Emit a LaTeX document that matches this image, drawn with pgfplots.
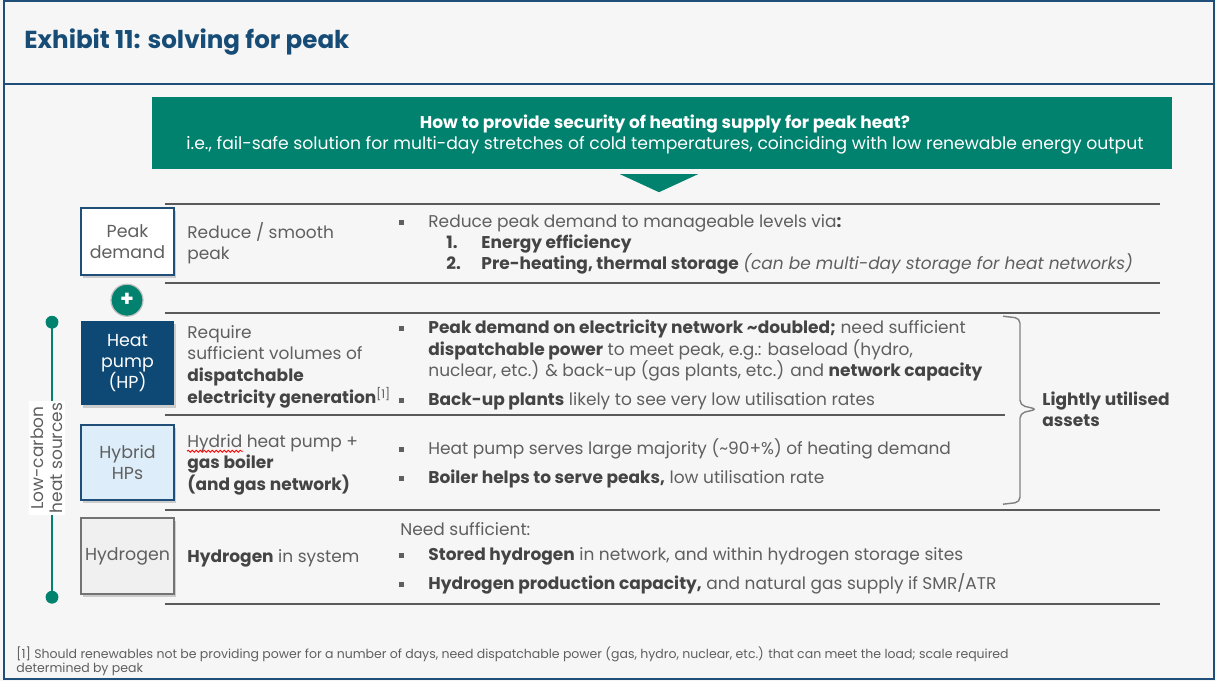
\documentclass[border=0pt]{standalone}
\usepackage{pgfplots}
\pgfplotsset{compat=1.18}
\usepackage{fontspec}
\setmainfont{Poppins}
\usetikzlibrary{shadows,decorations.pathmorphing}

\definecolor{bgc}{RGB}{246,246,246}
\definecolor{frame}{RGB}{31,78,121}
\definecolor{ttl}{RGB}{22,76,118}
\definecolor{teal}{RGB}{0,130,110}
\definecolor{hpblue}{RGB}{14,73,117}
\definecolor{ltblue}{RGB}{221,238,250}
\definecolor{tgray}{RGB}{95,95,95}
\definecolor{tdark}{RGB}{68,68,68}
\definecolor{rule}{RGB}{90,90,90}

\newcommand{\B}[1]{{\bfseries\color{tdark}#1}}
\newcommand{\body}{\fontsize{8.5}{10.5}\selectfont}

\begin{document}
\begin{tikzpicture}[
  txt/.style={anchor=mid west, inner sep=0pt, font=\body, text=tgray},
  box/.style={minimum width=46.5pt, inner sep=0pt, align=center, font=\fontsize{8.7}{10.6}\selectfont,
    drop shadow={opacity=0.35, shadow xshift=1.2pt, shadow yshift=-1.2pt}},
]
\begin{axis}[
  scale only axis, width=608pt, height=340.5pt,
  xmin=0, xmax=1216, ymin=0, ymax=681, y dir=reverse,
  hide axis, clip=false,
]
% background and frame
\fill[bgc] (axis cs:0,0) rectangle (axis cs:1216,681);
\draw[frame, line width=1.2pt] (axis cs:4,1) rectangle (axis cs:1214,679);
\addplot[frame, line width=0.8pt] coordinates {(4,84) (1214,84)};
\node[anchor=mid west, inner sep=0pt, font=\fontsize{12.3}{14}\selectfont\bfseries, text=ttl]
  at (axis cs:24,43) {Exhibit 11: solving for peak};

% question banner
\fill[teal] (axis cs:152,97) rectangle (axis cs:1172,169);
\fill[teal] (axis cs:620,174) -- (axis cs:698,174) -- (axis cs:659,192) -- cycle;
\node[anchor=mid, inner sep=0pt, font=\body\bfseries, text=white] at (axis cs:665,123)
  {How to provide security of heating supply for peak heat?};
\node[anchor=mid, inner sep=0pt, font=\fontsize{8.6}{10.5}\selectfont, text=white] at (axis cs:665,144)
  {i.e., fail-safe solution for multi-day stretches of cold temperatures, coinciding with low renewable energy output};

% row rules
\addplot[rule, line width=0.8pt] coordinates {(165,204) (1160,204)};
\addplot[rule, line width=0.8pt] coordinates {(165,283) (1160,283)};
\addplot[rule, line width=0.8pt] coordinates {(165,313) (1160,313)};
\addplot[rule, line width=0.8pt] coordinates {(165,415) (1005,415)};
\addplot[rule, line width=0.8pt] coordinates {(165,510) (1160,510)};
\addplot[rule, line width=0.8pt] coordinates {(165,604) (1160,604)};

% left boxes
\node[box, minimum height=33.5pt, fill=white, draw=frame, line width=0.9pt, text=tgray]
  at (axis cs:127.5,241.5) {Peak\\demand};
\node[box, minimum height=42pt, fill=hpblue, text=white]
  at (axis cs:127.5,363) {Heat\\pump\\(HP)};
\node[box, minimum height=37.5pt, fill=ltblue, draw=frame, line width=0.9pt, text=tgray]
  at (axis cs:127.5,462.5) {Hybrid\\HPs};
\node[box, minimum height=38pt, fill=black!6, draw=black!55, line width=0.9pt, text=tgray]
  at (axis cs:127.5,556) {Hydrogen};

% plus
\node[circle, fill=teal, draw=black!25, line width=0.6pt, minimum size=16pt, inner sep=0pt,
  text=white, font=\fontsize{11}{11}\selectfont\bfseries] at (axis cs:127,300) {+};

% low-carbon timeline
\addplot[teal, line width=1.1pt] coordinates {(52,322) (52,597)};
\addplot[only marks, mark=*, mark size=3pt, teal] coordinates {(52,322) (52,597)};
\node[rotate=90, fill=white, inner sep=1pt, align=center, text=tgray,
  font=\fontsize{8.5}{9.6}\selectfont] at (axis cs:47,458) {Low-carbon\\heat sources};

% second column
\node[txt] at (axis cs:187,233) {Reduce / smooth};
\node[txt] at (axis cs:187,254) {peak};
\node[txt] at (axis cs:187,333) {Require};
\node[txt] at (axis cs:187,354) {sufficient volumes of};
\node[txt] at (axis cs:187,376) {\B{dispatchable}};
\node[txt] at (axis cs:187,398) {\B{electricity generation}\textsuperscript{[1]}};
\node[txt] at (axis cs:187,442) {Hydrid heat pump +};
\draw[red, line width=0.4pt, decorate, decoration={snake, amplitude=0.5pt, segment length=2pt}]
  (axis cs:187,451) -- (axis cs:243,451);
\node[txt] at (axis cs:187,463) {\B{gas boiler}};
\node[txt] at (axis cs:187,485) {\B{(and gas network)}};
\node[txt] at (axis cs:187,557) {\B{Hydrogen} in system};

% bullets
\addplot[only marks, mark=square*, mark size=1pt, tgray] coordinates
  {(401,222) (401,328) (401,400) (401,449) (401,478) (401,555) (401,584)};

% third column
\node[txt] at (axis cs:428,222) {Reduce peak demand to manageable levels via\B{:}};
\node[txt] at (axis cs:446,243) {\B{1.}};
\node[txt] at (axis cs:481,243) {\B{Energy efficiency}};
\node[txt] at (axis cs:446,264) {\B{2.}};
\node[txt] at (axis cs:481,264) {\B{Pre-heating, thermal storage} \textit{(can be multi-day storage for heat networks)}};

\node[txt] at (axis cs:428,328) {\B{Peak demand on electricity network \textasciitilde doubled;} need sufficient};
\node[txt] at (axis cs:428,350) {\B{dispatchable power} to meet peak, e.g.: baseload (hydro,};
\node[txt] at (axis cs:428,371) {nuclear, etc.) \& back-up (gas plants, etc.) and \B{network capacity}};
\node[txt] at (axis cs:428,400) {\B{Back-up plants} likely to see very low utilisation rates};

\node[txt] at (axis cs:428,449) {Heat pump serves large majority (\textasciitilde 90+\%) of heating demand};
\node[txt] at (axis cs:428,478) {\B{Boiler helps to serve peaks,} low utilisation rate};

\node[txt] at (axis cs:400,530) {Need sufficient:};
\node[txt] at (axis cs:428,555) {\B{Stored hydrogen} in network, and within hydrogen storage sites};
\node[txt] at (axis cs:428,584) {\B{Hydrogen production capacity,} and natural gas supply if SMR/ATR};

% brace
\draw[black!50, line width=0.7pt, rounded corners=2.5pt]
  (axis cs:1003,316) -- (axis cs:1020,318) -- (axis cs:1020,405) -- (axis cs:1037,409)
  -- (axis cs:1020,413) -- (axis cs:1020,502) -- (axis cs:1003,504);
\node[txt] at (axis cs:1042,400) {\B{Lightly utilised}};
\node[txt] at (axis cs:1042,421) {\B{assets}};

% footnote
\node[anchor=mid west, inner sep=0pt, font=\fontsize{6.25}{7}\selectfont, text=tgray] at (axis cs:16,653)
  {[1] Should renewables not be providing power for a number of days, need dispatchable power (gas, hydro, nuclear, etc.) that can meet the load; scale required};
\node[anchor=mid west, inner sep=0pt, font=\fontsize{6.25}{7}\selectfont, text=tgray] at (axis cs:16,667)
  {determined by peak};
\end{axis}
\end{tikzpicture}
\end{document}
